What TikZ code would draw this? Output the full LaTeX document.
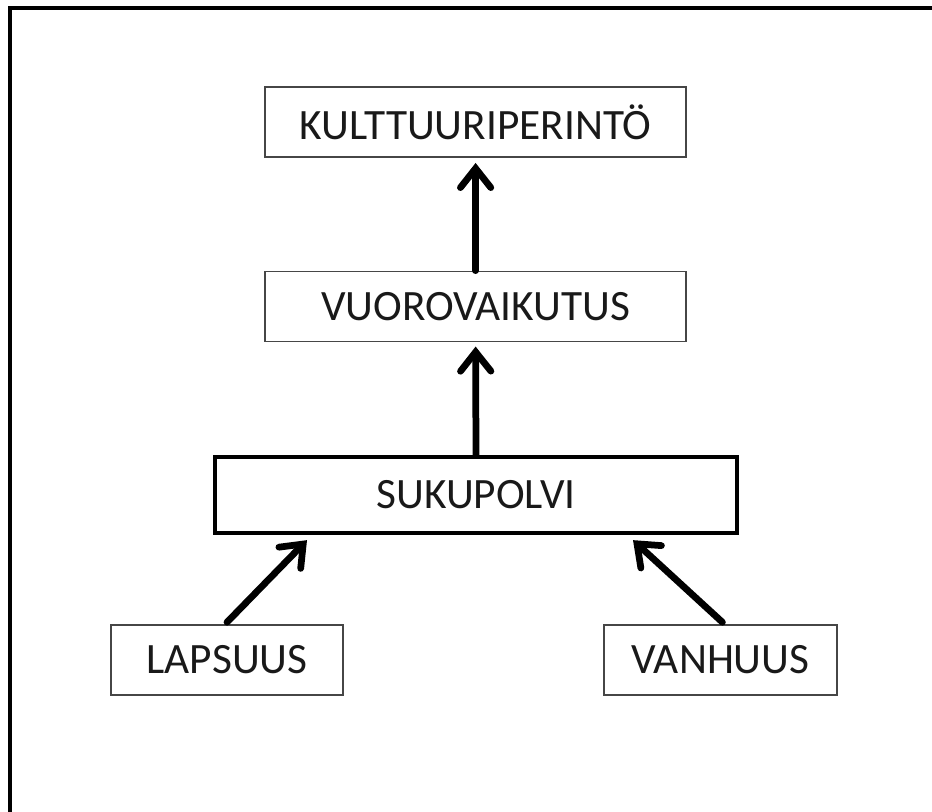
\documentclass[tikz,border=0pt]{standalone}
\usepackage{fontspec}
\setmainfont{Carlito}
\usepackage{tikz}
\usetikzlibrary{arrows.meta, positioning}
\definecolor{boxgray}{RGB}{70, 70, 70}
\definecolor{textgray}{RGB}{25, 25, 25}

\tikzset{
  levelbox/.style={draw=boxgray, line width=1.1pt, minimum width=10.525cm, minimum height=1.75cm,
    inner sep=0pt, text=textgray, font=\fontsize{30.8}{34}\selectfont},
  agebox/.style={levelbox, minimum width=5.8cm},
  mainbox/.style={levelbox, draw=black, line width=2.2pt, minimum width=13.05cm, minimum height=1.9cm},
  uparrow/.style={line width=4.8pt, line cap=round,
    -{Straight Barb[length=0.48cm, width=0.76cm, line cap=round]}}
}

\begin{document}
\begin{tikzpicture}
  \useasboundingbox (0,0) rectangle (23.3,-20.3);
  % frame, only top and left edges show
  \draw[line width=3.3pt] (0.25,-20.3) -- (0.25,-0.2) -- (23.3,-0.2);

  % boxes
  \node[levelbox] (perinto) at (11.89,-3.05) {KULTTUURIPERINTÖ};
  \node[levelbox] (vuoro) at (11.89,-7.66) {VUOROVAIKUTUS};
  \node[mainbox] (suku) at (11.9,-12.375) {SUKUPOLVI};
  \node[agebox] (lapsuus) at (5.675,-16.5) {LAPSUUS};
  \node[agebox, minimum width=5.825cm] (vanhuus) at (18.01,-16.5) {VANHUUS};

  % arrow ends under the generation box
  \coordinate (lin) at ([xshift=-4.225cm, yshift=-0.14cm]suku.south);
  \coordinate (rin) at ([xshift=3.925cm, yshift=-0.14cm]suku.south);

  % arrows
  \draw[uparrow, shorten >=0.13cm] (vuoro.north) -- (perinto.south);
  \draw[uparrow, shorten >=0.11cm] (suku.north) -- (vuoro.south);
  \draw[uparrow] ([yshift=0.05cm]lapsuus.north) -- (lin);
  \draw[uparrow] ([xshift=0.05cm, yshift=0.05cm]vanhuus.north) -- (rin);
\end{tikzpicture}
\end{document}
